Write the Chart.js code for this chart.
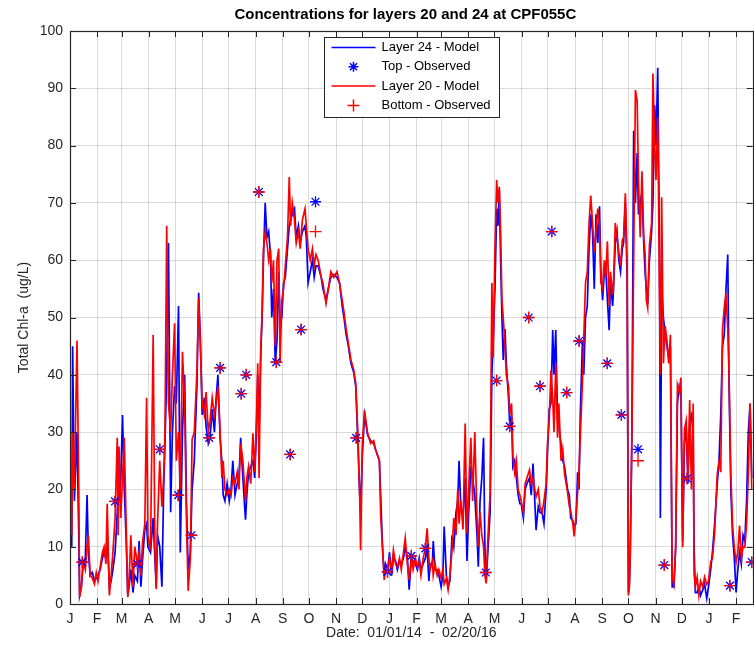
<!DOCTYPE html>
<html>
<head>
<meta charset="utf-8">
<script src="https://cdn.jsdelivr.net/npm/chart.js@4.4.0/dist/chart.umd.min.js"></script>
<style>
  html, body { margin: 0; padding: 0; background: #fff; overflow: hidden; }
  #wrap { width: 754px; height: 647px; overflow: hidden; }
</style>
</head>
<body>
<div id="wrap"><canvas id="chlChart" width="760" height="647"></canvas></div>
<script>
// Chl-a at CPF055C, day offsets from 01/01/2014
const chartTitle = 'Concentrations for layers 20 and 24 at CPF055C';
const xTitle = 'Date:  01/01/14  -  02/20/16';
const yTitle = 'Total Chl-a  (ug/L)';
const monthLabels = ['J', 'F', 'M', 'A', 'M', 'J', 'J', 'A', 'S', 'O', 'N', 'D'];
const dayRange = [0, 780];
const yTicks = [0, 10, 20, 30, 40, 50, 60, 70, 80, 90, 100];

const modelDays = [
    0, 2, 3, 5, 8, 10, 11, 13, 15, 17.5, 19.5, 21, 23, 25.5, 28, 30, 32, 34.5, 37, 39,
    41, 42.5, 45, 47, 49, 51.5, 54, 55, 56, 58, 60, 62, 64, 66, 67.5, 69.5, 72, 74, 77, 79,
    81, 83, 85.5, 87.5, 89, 92, 95, 97, 98.5, 100, 102.5, 105, 107, 108.5, 110.5, 112.5, 115, 117, 119.5, 121.5,
    124, 126, 128.5, 131, 133, 135, 137.5, 139.5, 142, 145, 147, 149, 151, 153.5, 155.5, 158, 160, 162.5, 165, 167,
    169, 171.5, 173.5, 175, 177, 179.5, 182, 184, 186, 188.5, 191, 193, 195, 197.5, 200.5, 202, 204, 206.5, 209, 211,
    213, 214.5, 216, 218, 219.5, 221, 223, 225, 227, 229, 230.5, 232.5, 234.5, 236.5, 238.5, 240, 242, 244, 246, 248.5,
    250.5, 252, 254, 256.5, 258.5, 261, 263, 265.5, 268.5, 270, 272, 274.5, 277, 279, 281, 283.5, 287, 289, 292.5, 295,
    298, 301.5, 305, 308, 311, 313, 315.5, 317.5, 321, 324, 326.5, 329, 331, 332, 334, 336.5, 340, 343.5, 347, 349,
    353.5, 355, 357, 359, 360.5, 363, 365, 367.5, 369.5, 372, 374, 376.5, 378.5, 381, 383, 385.5, 387.5, 390, 392, 394.5,
    397, 399, 401, 403.5, 406, 408, 410, 411.5, 414, 415, 417, 419.5, 421.5, 424, 426, 427.5, 430, 432, 434, 436.5,
    438.5, 441, 443, 444.5, 446.5, 449, 451.5, 453.5, 455.5, 458, 460, 462.5, 465, 466.5, 468.5, 470.5, 472.5, 474, 475.5, 477,
    480, 482, 483.5, 485.5, 487.5, 489, 490.5, 492, 493.5, 495, 497, 498.5, 501, 502.5, 504.5, 506, 508, 510, 512, 514,
    515.5, 518, 520, 522, 525, 527, 529, 531, 532.5, 535, 537, 539.5, 541.5, 544, 545.5, 547.5, 549.5, 551.5, 553, 555,
    557, 558.5, 561, 563, 565, 568.5, 570.5, 572, 574.5, 576, 578, 580, 581.5, 583, 585.5, 587, 589, 591, 593, 595,
    597, 599, 601, 603, 605, 606.5, 608.5, 610.5, 612, 614, 616, 617.5, 620, 621, 623, 625, 627, 629, 631, 632.5,
    634.5, 636.5, 638, 639, 640, 642, 644, 646, 648, 649.5, 651.5, 653.5, 655.5, 657, 658.5, 660, 662, 664.5, 666, 668,
    669.5, 671.5, 673.5, 674.5, 676, 678, 680, 682, 684, 686, 688, 690, 692, 694, 696, 698, 700, 702, 704, 706,
    708, 710, 712, 713, 714.5, 716.5, 718.5, 720.5, 723, 725, 727.5, 729.5, 732, 734, 736.5, 739.5, 741.5, 743.5, 745.5, 747.5,
    749.5, 751.5, 753, 755, 757, 759, 761, 763, 765, 767, 769, 771, 773, 775, 777, 779
];

const layer24 = [
    25, 10, 45, 18, 30, 12, 1.5, 3, 7, 8, 19, 9, 5, 5.5, 4, 4.5, 5, 6, 8, 9,
    8, 12, 3, 4, 6, 9, 16, 20, 18, 22, 33, 20, 12, 1.5, 3, 6, 2, 5, 4, 11,
    3, 8, 13, 14, 10, 9, 15, 8, 3, 12, 10, 3, 20, 28, 40, 63, 16, 30, 38, 35,
    52, 9, 30, 40, 18, 6, 9, 20, 25, 38, 54.3, 46, 33, 36, 31, 28, 29, 34, 30, 36,
    40, 29, 25, 19, 18, 21, 18, 20, 25, 19, 21, 22, 29, 22, 14.7, 19, 23, 24, 25, 22,
    30, 40, 30, 44, 50, 60, 70, 64, 65, 61, 50, 55, 42, 46, 58, 49, 50, 56, 57, 62,
    66, 67, 68, 69, 64, 66, 63, 65, 66, 64, 56, 58, 60, 57, 59, 59, 57, 55, 53, 55,
    57, 57.5, 57, 56, 52, 50, 47, 45.5, 42, 40.5, 38, 28, 19, 17, 26, 33, 29.5, 28.5, 28, 27,
    25, 18.7, 10, 5, 7, 6, 9, 5, 8, 7.5, 6, 7.5, 7, 8, 10, 8, 2.5, 8, 7.5, 7,
    6, 8, 6, 7, 8, 10, 4, 7, 7, 11, 6, 6, 5, 3, 5, 13.5, 5, 3, 4, 12,
    10, 16, 18, 25, 17, 15, 22, 7.5, 16, 24, 22, 19, 12, 6.5, 18, 22, 29, 10, 4, 8,
    16, 40, 46, 55, 69, 66, 72.2, 60, 50, 42.6, 48, 42, 36, 31, 33, 24, 25, 22, 19, 17.5,
    17.5, 15, 20, 21, 22, 19, 24.5, 18, 12.9, 17, 16, 15.8, 14, 20, 26, 34, 35, 47.8, 40, 47.8,
    32, 31, 28, 25, 24, 20, 19, 15, 14.5, 13.7, 14, 23, 20, 33, 46, 40, 50, 52, 62, 68,
    65, 55, 68, 63, 69.4, 58, 53, 58, 59, 53, 47.8, 56, 52, 55, 63, 65, 60, 58, 62, 63,
    70, 57, 2, 3, 8, 30, 82.6, 70, 78.7, 68, 70, 72, 63, 58, 55, 52.4, 60, 65, 70, 87,
    80, 93.6, 61, 15, 55, 50, 47, 45, 43, 44, 3, 3, 10, 35, 38, 37, 11, 28, 31, 21,
    32, 33, 30, 10, 2, 2, 3, 1.5, 2.5, 3.5, 1, 3, 6, 9, 14, 21, 25, 33, 45, 47,
    55, 61, 38, 20, 12, 8, 2, 6, 9, 7, 12, 11, 18, 30, 35, 22
];

const layer20 = [
    27, 12, 30, 20, 46, 20, 1.2, 3, 7.5, 6, 10, 12, 5, 4.5, 3.5, 5.5, 4, 6.5, 9, 10,
    7, 17.5, 1.5, 5, 9, 15, 29, 12, 27.5, 15, 22, 29, 15, 1.2, 4, 12, 3, 10, 7, 9,
    5, 11, 14, 36, 12, 9.4, 47, 10, 2.6, 14, 25, 17, 22, 30, 66, 35, 30, 40, 49, 25,
    30, 20, 44, 35, 15, 2.3, 8, 28.7, 30, 40.5, 53.4, 44.6, 35, 33, 37, 30, 32, 36, 33, 35,
    38, 30, 22, 25, 20, 19, 20, 19, 22, 21, 23, 20, 28, 25, 18, 22, 24, 21, 29.8, 23,
    32, 42, 22, 45, 51, 62, 65, 63, 60, 62, 56, 60, 45, 60, 62, 42, 53, 55, 59, 64,
    74.5, 66, 70, 67, 63, 65, 62, 67, 69, 66, 62, 60, 62, 59, 61, 60, 57, 56, 52.4, 54.8,
    58, 57, 58, 56, 53, 51, 48, 46, 42.6, 41, 38.5, 29, 18.7, 9.4, 28, 33.8, 29.8, 28, 28.5, 27,
    25, 15.2, 10, 4.2, 6, 5.6, 8, 6, 9.4, 7, 6.5, 8, 6, 9, 11.5, 7, 4.2, 8.4, 6, 8,
    6.5, 7.5, 5, 8, 9.7, 13.2, 8, 6, 7.5, 5, 7, 5, 6, 4.5, 6, 3.5, 4.5, 2.5, 5, 9.4,
    15, 12, 20, 14, 18, 13, 31.5, 12.3, 20, 29, 18, 30, 15, 10, 16, 12, 10, 5, 3.6, 10,
    19.3, 56, 43, 62, 74, 70, 72.8, 64.7, 53, 50, 45, 40, 38, 33, 35, 26, 23, 25, 20, 19,
    18, 16, 21, 22, 23.4, 21, 22, 20, 18.7, 20, 17, 16, 18, 21, 28, 32, 40.8, 36, 30, 42,
    29, 35, 25, 27, 22.7, 19.5, 17, 16.3, 14, 11.8, 15, 19.5, 23, 29, 38.8, 46.5, 56, 58, 66.5, 71.3,
    66.5, 61.4, 65, 69, 66, 56.2, 55, 60, 57, 63.3, 52, 58, 54, 56, 66.5, 64, 61.4, 59, 63.5, 64,
    71.7, 60, 1.5, 3, 8, 29, 60, 89.7, 87.8, 74, 64, 75.5, 64, 61.4, 53, 51.7, 62.6, 66.5, 92.6, 80,
    74, 85, 55, 40, 71, 42, 48.5, 46, 42, 47, 4.7, 3.4, 9.9, 38.2, 37, 39.5, 9.9, 30.5, 32, 22,
    35.6, 20, 35, 5.3, 3, 4.7, 1.5, 4, 3, 4.7, 3.4, 4, 7.3, 8, 12.4, 22.7, 24.7, 23, 48, 51.7,
    54.2, 48, 40, 22.7, 13.7, 9.9, 7.3, 9, 13.7, 8, 10, 9.9, 14, 22.7, 35, 20
];

const obsDays = [
    14, 51.5, 77, 102.6, 123.6, 138.7, 159, 171.5, 195.6, 201.3, 215.7, 235.7, 251.5, 264, 280.5, 327, 362.8,
    390, 406, 475, 487.4, 502.4, 524, 537, 550.4, 567.4, 581.7, 613.8, 630, 649, 679, 705, 754, 779
];
const topObserved = [
    7.3, 17.9, 7, 27, 19, 12, 29, 41.2, 36.7, 40, 71.9, 42.2, 26.1, 47.9, 70.2, 29, 5.6,
    8.4, 9.7, 5.5, 39, 31, 50, 38, 65, 36.9, 45.9, 42, 33, 27, 6.8, 21.9, 3.2, 7.3
];
const bottomObserved = [
    7.3, 17.9, 7, 27, 19, 12, 29, 41.2, 36.7, 40, 71.9, 42.2, 26.1, 47.9, 65, 29, 5.6,
    8.4, 9.7, 5.5, 39, 31, 50, 38, 65, 36.9, 45.9, 42, 33, 25, 6.8, 21.9, 3.2, 7.3
];

const monthStarts = [];
for (let m = 0; m < 26; m++) {
    monthStarts.push((Date.UTC(2014, m, 1) - Date.UTC(2014, 0, 1)) / 86400000);
}

const fontFamily = '"Liberation Sans", Helvetica, Arial, sans-serif';
const axisColor = '#262626';
const gridColor = 'rgba(38, 38, 38, 0.17)';

const toPoints = (xs, ys) => xs.map((d, i) => ({ x: d, y: ys[i] }));

// Box, inward ticks, title and legend in the MATLAB look
const matlabFrame = {
    id: 'matlabFrame',
    afterDatasetsDraw(chart) {
        const { ctx, chartArea: a, scales: { x, y } } = chart;
        ctx.save();
        ctx.strokeStyle = axisColor;
        ctx.lineWidth = 1;
        ctx.beginPath();
        x.ticks.forEach(t => {
            const px = Math.round(x.getPixelForValue(t.value)) + 0.5;
            ctx.moveTo(px, a.bottom); ctx.lineTo(px, a.bottom - 6);
            ctx.moveTo(px, a.top); ctx.lineTo(px, a.top + 6);
        });
        y.ticks.forEach(t => {
            const py = Math.round(y.getPixelForValue(t.value)) + 0.5;
            ctx.moveTo(a.left, py); ctx.lineTo(a.left + 6, py);
            ctx.moveTo(a.right, py); ctx.lineTo(a.right - 6, py);
        });
        ctx.stroke();
        ctx.lineWidth = 1.2;
        ctx.strokeRect(Math.round(a.left) + 0.5, Math.round(a.top) + 0.5,
            Math.round(a.right - a.left), Math.round(a.bottom - a.top));
        ctx.restore();
    },
    afterDraw(chart) {
        const { ctx, chartArea: a } = chart;
        const cx = (a.left + a.right) / 2;
        ctx.save();

        // title
        ctx.fillStyle = '#000';
        ctx.font = 'bold 15px ' + fontFamily;
        ctx.textAlign = 'center';
        ctx.textBaseline = 'middle';
        ctx.fillText(chartTitle, cx - 6, 15);

        // legend
        const items = [3, 1, 2, 0].map(i => chart.data.datasets[i]);
        const boxW = 175, rowH = 19.3, boxH = 80;
        const bx = Math.round(cx - boxW / 2) + 0.5, by = Math.round(a.top + 6) + 0.5;
        ctx.fillStyle = '#fff';
        ctx.fillRect(bx, by, boxW, boxH);
        ctx.strokeStyle = axisColor;
        ctx.lineWidth = 1;
        ctx.strokeRect(bx, by, boxW, boxH);
        ctx.font = '13px ' + fontFamily;
        ctx.textAlign = 'left';
        items.forEach((ds, k) => {
            const ry = by + 10 + k * rowH;
            const sx = bx + 29;
            ctx.strokeStyle = ds.borderColor;
            ctx.lineWidth = 1.5;
            ctx.beginPath();
            if (ds.showLine) {
                ctx.moveTo(bx + 7, ry); ctx.lineTo(bx + 51, ry);
            } else if (ds.pointStyle === 'star') {
                const r = 5;
                ctx.moveTo(sx - r, ry); ctx.lineTo(sx + r, ry);
                ctx.moveTo(sx, ry - r); ctx.lineTo(sx, ry + r);
                const d = r * 0.707;
                ctx.moveTo(sx - d, ry - d); ctx.lineTo(sx + d, ry + d);
                ctx.moveTo(sx - d, ry + d); ctx.lineTo(sx + d, ry - d);
            } else {
                const r = 6;
                ctx.moveTo(sx - r, ry); ctx.lineTo(sx + r, ry);
                ctx.moveTo(sx, ry - r); ctx.lineTo(sx, ry + r);
            }
            ctx.stroke();
            ctx.fillStyle = '#000';
            ctx.fillText(ds.label, bx + 57, ry);
        });
        ctx.restore();
    }
};

new Chart(document.getElementById('chlChart'), {
    type: 'scatter',
    data: {
        datasets: [
            {
                label: 'Bottom - Observed',
                data: toPoints(obsDays, bottomObserved),
                showLine: false,
                pointStyle: 'cross',
                pointRadius: 6,
                borderColor: '#ff0000',
                backgroundColor: '#ff0000',
                pointBorderWidth: 1.3
            },
            {
                label: 'Top - Observed',
                data: toPoints(obsDays, topObserved),
                showLine: false,
                pointStyle: 'star',
                pointRadius: 5.5,
                borderColor: '#0000ff',
                backgroundColor: '#0000ff',
                pointBorderWidth: 1.3
            },
            {
                label: 'Layer 20 - Model',
                data: toPoints(modelDays, layer20),
                showLine: true,
                pointRadius: 0,
                borderColor: '#ff0000',
                borderWidth: 1.7,
                tension: 0
            },
            {
                label: 'Layer 24 - Model',
                data: toPoints(modelDays, layer24),
                showLine: true,
                pointRadius: 0,
                borderColor: '#0000ff',
                borderWidth: 1.7,
                tension: 0
            }
        ]
    },
    options: {
        responsive: false,
        animation: false,
        layout: {
            padding: { top: 31, right: 2, left: 0, bottom: 0 }
        },
        plugins: {
            legend: { display: false },
            title: { display: false },
            tooltip: { enabled: false }
        },
        scales: {
            x: {
                type: 'linear',
                min: dayRange[0],
                max: dayRange[1],
                afterBuildTicks: scale => {
                    scale.ticks = monthStarts.map(v => ({ value: v }));
                },
                afterFit: scale => { scale.height = 43; },
                ticks: {
                    autoSkip: false,
                    maxRotation: 0,
                    padding: 7,
                    color: axisColor,
                    font: { family: fontFamily, size: 14 },
                    callback: (value, index) => monthLabels[index % 12]
                },
                grid: { color: gridColor, drawTicks: false },
                border: { display: false },
                title: {
                    display: true,
                    text: xTitle,
                    color: axisColor,
                    font: { family: fontFamily, size: 14 },
                    padding: { top: 0, bottom: 5 }
                }
            },
            y: {
                min: yTicks[0],
                max: yTicks[yTicks.length - 1],
                afterBuildTicks: scale => {
                    scale.ticks = yTicks.map(v => ({ value: v }));
                },
                afterFit: scale => { scale.width = 70; },
                ticks: {
                    padding: 7,
                    color: axisColor,
                    font: { family: fontFamily, size: 14 }
                },
                grid: { color: gridColor, drawTicks: false },
                border: { display: false },
                title: {
                    display: true,
                    text: yTitle,
                    color: axisColor,
                    font: { family: fontFamily, size: 14 },
                    padding: { top: 16, bottom: 0 }
                }
            }
        }
    },
    plugins: [matlabFrame]
});
</script>
</body>
</html>
